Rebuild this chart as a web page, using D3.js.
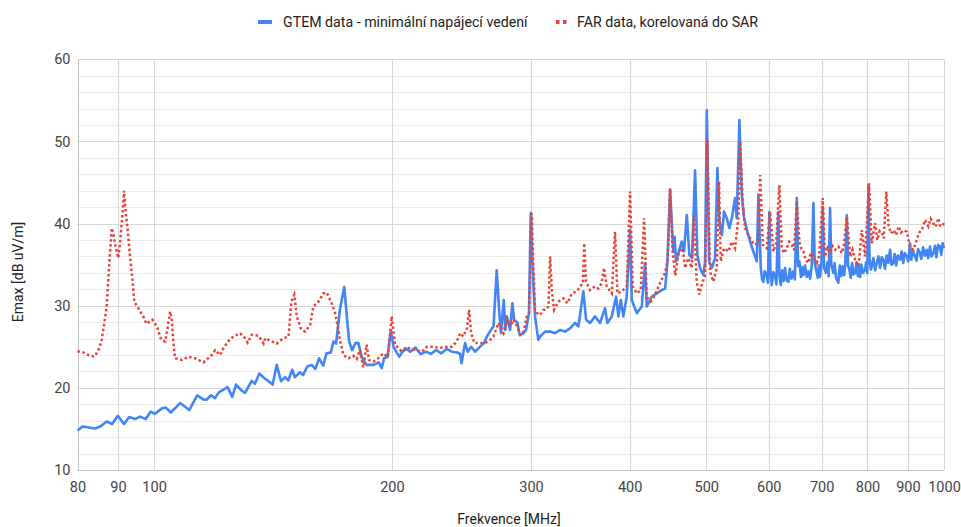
<!DOCTYPE html>
<html>
<head>
<meta charset="utf-8">
<script src="https://cdn.jsdelivr.net/npm/d3@7"></script>
<style>
  body { margin: 0; background: #fff; }
  svg { font-family: Roboto, Arial, sans-serif; }
</style>
</head>
<body>
<div id="chart"></div>
<script>
// series names + ticks
var seriesNames = ["GTEM data - minimální napájecí vedení", "FAR data, korelovaná do SAR"];
var xTickValues = [80, 90, 100, 200, 300, 400, 500, 600, 700, 800, 900, 1000];
var yTickValues = [10, 20, 30, 40, 50, 60];
var yMinorValues = [12, 14, 16, 18, 22, 24, 26, 28, 32, 34, 36, 38, 42, 44, 46, 48, 52, 54, 56, 58];

// [frequency MHz, Emax dB uV/m]
var gtem = [
  [80,14.8],[81.2,15.3],[84.2,15.05],[85.5,15.3],[87.1,15.9],[88.5,15.6],[90,16.6],[91.6,15.6],[93,16.45],[94.6,16.2],
  [96,16.5],[97.6,16.2],[99,17.1],[100.3,16.85],[102.3,17.5],[103.5,17.6],[105,17],[107.9,18.15],[110.8,17.3],[113.4,19.1],
  [115.4,18.6],[116.5,18.55],[118.1,19.1],[119.4,18.75],[120.8,19.45],[123.9,20.1],[125.6,18.9],[127,20.4],[129.1,19.65],[130.4,19.4],
  [132.9,20.85],[134.2,20.5],[135.9,21.75],[137.5,21.3],[141.3,20.4],[143,22.8],[144.8,20.8],[146.5,21.3],[147.9,20.9],[149.6,22.2],
  [150.8,21.3],[153,21.9],[154.4,21.55],[156.3,22.6],[158.3,22.8],[160,22.3],[161.8,23.6],[163.7,22.7],[165.3,24.2],[167.4,24.3],
  [168.7,25.65],[170,25.4],[171.9,29.5],[174.1,32.3],[175.4,28.7],[176.6,25.65],[178.1,24.6],[180,25.5],[181.4,25.45],[183.2,23.75],
  [185.8,22.8],[189.7,22.8],[192.5,23.1],[194.2,22.4],[195.5,23.6],[197.5,23.75],[199.4,27],[201,25],[204.3,23.8],[207.9,24.85],
  [211,24.4],[214.2,24.9],[217.5,24.1],[220.8,24.4],[224.2,24.15],[227.6,24.6],[231.1,24.2],[234.7,24.75],[238.3,24.4],[242,24.3],
  [244,24.15],[245,23],[247.6,25.45],[249.5,24.4],[252,25],[255,24.4],[258.5,25],[261.6,25.45],[264.5,26.45],[266.2,26.85],
  [269,27.5],[271.5,34.3],[273.4,29.5],[274.9,26.65],[277.1,30.7],[278.4,27.05],[279.6,28.7],[282.3,27.05],[284.2,30.3],[285.6,28.3],
  [288.5,27.9],[290.3,26.45],[293.4,26.65],[295.7,27.05],[298.3,29.1],[299.8,41.3],[302.1,32.75],[303.6,28.7],[306.5,25.85],[308.1,26.25],
  [312.6,26.85],[317.2,26.85],[321.8,26.65],[326.6,27.05],[331.4,26.85],[336.2,27.25],[341.2,27.9],[344.5,27.5],[349.5,31.75],[352.3,28.3],
  [356.4,27.9],[361.6,28.7],[366.9,27.9],[372.3,29.7],[374.8,27.9],[379.7,28.7],[384.5,31.1],[387.1,28.7],[389.8,30.7],[392.7,28.7],
  [396.6,31.1],[400.5,39.2],[402.5,30.7],[408.4,29.1],[414.4,29.9],[418.4,35.2],[420.4,29.9],[426.6,31.1],[432.9,31.5],[439.2,31.9],
  [443.5,32.1],[446.5,35.2],[450,44.1],[454.3,36.6],[456,38.4],[457.9,35.4],[461,36.4],[465.6,37.8],[468.7,36.6],[472.5,41.05],
  [476,36.2],[479.8,35.8],[484,46.5],[487.3,36.2],[491.1,34.6],[495.8,33.75],[498.4,35.4],[500.9,53.8],[504.2,35.4],[508.2,34.6],
  [513.1,35.8],[516.6,46.75],[519.6,40.25],[523.3,38.6],[526.8,41.45],[530.9,40.65],[535,39.45],[538.7,40.65],[543.9,43.1],[546.6,40.65],
  [550.8,52.6],[554.7,43.5],[558.4,40.65],[563.8,39],[568.3,37.8],[573.7,36.6],[579.5,35.4],[582.2,43.5],[586.2,34.6],[588.5,33.2],
  [590.7,32.9],[593,34.2],[596.5,33.7],[598.5,32.8],[601,41.4],[603,33.9],[605.3,32.5],[608,34.1],[611.1,33.7],[613.5,32.6],
  [617,41.4],[619,33.6],[621.4,32.5],[624,34.3],[626.5,33],[629.2,34.6],[632,33.1],[635.3,32.9],[638,34.5],[641,33.3],
  [644.6,34.2],[647.5,33.2],[651.1,43.1],[653.5,34.8],[656.1,35.4],[659,33.5],[661.5,34.7],[663.8,33.7],[667,34.9],[670.4,33.5],
  [673.5,34.2],[677,33.3],[680,34.8],[683.4,42.5],[686,35.2],[688.7,34.4],[692,33.4],[694.5,34.9],[696.7,33.5],[699.5,35.2],
  [702.2,42],[705,34.6],[709,34],[712,35.3],[714.5,33.6],[717.4,41.9],[720,35],[724.3,34],[727,35.2],[730,33.4],
  [734.9,32.8],[738,34.9],[741,33.6],[744.4,34.8],[747.5,33.7],[750,35.1],[753.3,41],[756,34.9],[759,34.4],[762,33.4],
  [765,35.2],[768,33.8],[771.8,34],[775,35.3],[778,33.6],[781,34.9],[783.1,33.5],[786,35],[790,34],[794.4,34.4],
  [797,35.3],[799.5,34],[802.1,44.7],[805,35.5],[808,34.4],[810.1,34.8],[814,35.8],[818,34.3],[822,35.2],[826,36],
  [830,34.6],[834,35.9],[838,35.6],[842,34.5],[846,36.1],[850,35.2],[854.5,36.8],[858,35],[862.7,35.2],[866,36.3],
  [870,34.9],[874,36.1],[879.8,35.6],[884,36.6],[888,35.2],[892,36.4],[897.1,36],[901,35.4],[905.8,37.6],[909,35.6],
  [913,36.7],[919.1,36],[923,35.5],[927,36.9],[932.6,36.4],[936,35.7],[941,37.1],[946,36.1],[950.9,36.8],[955,35.8],
  [960,37.2],[964,36],[969.5,36.4],[974,37.3],[978,35.9],[983,37.4],[988.4,37.2],[992,36.2],[996,37.6],[1000,37]
];

var far = [
  [80,24.45],[81.4,24.3],[82.6,24],[84,23.8],[84.9,24.45],[85.8,25.65],[86.5,27.9],[87.1,29.9],[87.5,33.15],[87.95,36.4],
  [88.4,39.45],[88.8,38.8],[89.4,37.2],[90.1,35.8],[90.55,37.6],[91,40.05],[91.4,42.3],[91.6,44],[92.1,41.25],[92.6,39.2],
  [93.25,35.95],[93.9,33.15],[94.4,30.5],[95.5,29.7],[96.9,28.7],[97.8,27.8],[99.5,28.3],[100.8,27.5],[102.1,25.85],[103.3,25.65],
  [104.1,27.5],[104.8,29.3],[105.3,28.3],[105.8,25.45],[106.3,23.6],[108.5,23.4],[110.5,23.8],[112.7,23.6],[115.5,23.1],[118.3,24],
  [119.5,24.6],[121.2,24],[122.4,24.85],[124.8,25.95],[126.6,26.35],[128.5,26.65],[130.4,26.05],[131.4,25.5],[132.9,26.45],[135.6,26.35],
  [137.6,25.4],[138.3,26.05],[140.9,25.65],[143,25.4],[145.8,26.05],[148,26.25],[149.2,30.5],[150.5,31.35],[151.6,28.7],[153.5,27.15],
  [155.3,26.85],[157.6,27.65],[159.1,29.9],[161.5,30.5],[163.8,31.5],[165.4,31.6],[167.5,30.5],[169.5,29.1],[170.9,27.35],[172,25.7],
  [173.7,24],[176.2,23.6],[178.7,23.9],[180.5,23.5],[182.2,24.6],[184,22.5],[185.8,25.25],[187.1,23.4],[189.5,23.2],[192.2,23.6],
  [195.1,24.2],[197.6,23.75],[199.9,28.7],[201.9,25.25],[203.9,24.85],[205.9,24.4],[209.9,24.85],[214.1,24.6],[218.3,24.4],[221.5,25],
  [225.7,25],[230.2,24.85],[234.8,25],[238.2,25],[241.7,25.65],[244,26.65],[246.4,26.25],[248.9,27.25],[250.5,29.5],[252,26.65],
  [254.4,25.45],[258.7,25.45],[262.5,25.45],[266.4,25.85],[268.9,26.25],[272.9,27.9],[276.9,26.65],[279.7,28.3],[282.4,27.5],[285.2,28.3],
  [288,27.5],[290.8,26.45],[293.6,26.85],[296.4,28.7],[298.3,29.1],[300.7,41.25],[302.1,34.8],[303.6,29.5],[306.5,28.9],[308.1,28.9],
  [311.1,29.5],[312.6,29.5],[315.7,29.9],[317.2,36],[318.8,31.9],[320.9,29.5],[325,30.5],[329.8,30.9],[333.7,30.3],[338,31.5],
  [343,31.75],[346.4,32.35],[349.1,32.75],[350.4,37.6],[352.3,32.95],[356.4,31.9],[361.6,32.35],[365.1,32.1],[368.7,32.75],[371.2,34.6],
  [374.1,32.35],[379.7,31.5],[383.3,39],[386,31.5],[391,31.75],[396.6,32.35],[400.5,43.9],[403.6,32.35],[408.4,31.5],[413.2,31.9],
  [417.2,40.65],[420.4,31.1],[425.4,30.5],[430.7,31.35],[437,32.75],[443.5,34],[446.9,35.6],[450,44.3],[453.4,36.6],[457,33.7],
  [461,36.2],[467,37],[470.1,34.6],[474.6,35.8],[479.3,34.6],[482.5,41],[486.3,32.95],[490,31.35],[493.5,32.55],[498.4,33.75],
  [501.7,50.2],[505.6,34.15],[510.5,32.95],[515.6,34.6],[519.1,45.1],[521.6,35.4],[526.8,37],[533.5,36.6],[538.7,37.8],[543.9,37],
  [549.2,40.65],[551.9,50],[556.3,42.3],[560,39.45],[565.5,38.6],[571.1,37.8],[576.7,37.4],[582.2,37.8],[585.2,45.9],[589.8,37.4],
  [596.5,37],[602.3,41.45],[608.1,36.6],[613,37.6],[618.8,44.7],[623.2,37],[627,36.4],[632.3,37],[637,37.8],[641.7,37.4],
  [646,36.8],[651.1,42.7],[656.1,37.8],[660,36.9],[663.8,36.6],[668,35.6],[673.5,35.2],[678,36.4],[683.4,36],[690.2,35.2],
  [695,36.1],[702.2,43.1],[706.9,36],[712,37],[717.4,36.4],[722,37.3],[728,36.8],[735.1,37.2],[742.4,36.4],[747,37.4],
  [753.3,40.85],[760.7,36],[766,36.8],[771.8,35.6],[779.3,34.8],[787.1,39.2],[794.4,36],[803.7,44.9],[810.1,37.6],[818,40.05],
  [823.6,38],[829,39.1],[834.4,38.85],[839,38.2],[845.1,43.9],[850.8,39.65],[857,38.8],[863.4,39.2],[870,38.6],[876.2,39.65],
  [882,38.9],[889.4,39.2],[897.1,39],[905.8,37.2],[914.6,36.8],[923.6,38],[930,38.9],[937.2,39.2],[946.3,40.45],[955.5,39.65],
  [962,40.6],[969.5,40.05],[976,39.6],[983.7,40.65],[988,39.8],[993.5,39.65],[1000,40.05]
];

var W = 961, H = 527;
var plot = { left: 77.5, right: 944, top: 59.3, bottom: 470 };
var blue = "#4285f4", red = "#ea4335";

var svg = d3.select("#chart").append("svg")
    .attr("width", W)
    .attr("height", H);

var x = d3.scaleLog().domain([80, 1000]).range([plot.left, plot.right]);
var y = d3.scaleLinear().domain([10, 60]).range([plot.bottom, plot.top]);

// minor horizontal grid
svg.append("g")
    .selectAll("line")
    .data(yMinorValues)
    .enter().append("line")
    .attr("x1", plot.left).attr("x2", plot.right)
    .attr("y1", d => Math.round(y(d)) + 0.5).attr("y2", d => Math.round(y(d)) + 0.5)
    .attr("stroke", "#ebebeb");

// major horizontal grid
svg.append("g")
    .selectAll("line")
    .data(yTickValues)
    .enter().append("line")
    .attr("x1", plot.left).attr("x2", plot.right)
    .attr("y1", d => Math.round(y(d)) + 0.5).attr("y2", d => Math.round(y(d)) + 0.5)
    .attr("stroke", d => d == 10 ? "#c4c4c4" : "#d6d6d6");

// vertical grid at labelled freqs
svg.append("g")
    .selectAll("line")
    .data(xTickValues)
    .enter().append("line")
    .attr("x1", d => Math.round(x(d)) + 0.5).attr("x2", d => Math.round(x(d)) + 0.5)
    .attr("y1", plot.top).attr("y2", plot.bottom)
    .attr("stroke", d => d == 80 ? "#c4c4c4" : "#d6d6d6");

// axes, labels only
var xAxis = d3.axisBottom(x).tickValues(xTickValues).tickFormat(d3.format("d")).tickSize(0).tickPadding(12);
var yAxis = d3.axisLeft(y).tickValues(yTickValues).tickFormat(d3.format("d")).tickSize(0).tickPadding(7);

svg.append("g")
    .attr("transform", `translate(0, ${plot.bottom})`)
    .call(xAxis)
    .call(g => g.select(".domain").remove())
    .selectAll("text")
    .attr("font-size", "14.5px")
    .attr("fill", "#444")
    .attr("font-family", "Roboto, Arial, sans-serif");

svg.append("g")
    .attr("transform", `translate(${plot.left}, 0)`)
    .call(yAxis)
    .call(g => g.select(".domain").remove())
    .selectAll("text")
    .attr("font-size", "14.5px")
    .attr("fill", "#444")
    .attr("font-family", "Roboto, Arial, sans-serif");

var line = d3.line()
    .x(d => x(d[0]))
    .y(d => y(d[1]));

svg.append("path")
    .datum(gtem)
    .attr("d", line)
    .attr("fill", "none")
    .attr("stroke", blue)
    .attr("stroke-width", 2.6)
    .attr("stroke-linejoin", "round");

svg.append("path")
    .datum(far)
    .attr("d", line)
    .attr("fill", "none")
    .attr("stroke", red)
    .attr("stroke-width", 2.5)
    .attr("stroke-dasharray", "2.5,2.5");

// axis titles
svg.append("text")
    .attr("x", 509).attr("y", 524)
    .attr("text-anchor", "middle")
    .attr("font-size", "14px")
    .attr("fill", "#222")
    .text("Frekvence [MHz]");

svg.append("text")
    .attr("transform", "translate(23, 272) rotate(-90)")
    .attr("text-anchor", "middle")
    .attr("font-size", "14px")
    .attr("fill", "#222")
    .text("Emax [dB uV/m]");

// legend
var legend = svg.append("g");
legend.append("line")
    .attr("x1", 258).attr("x2", 272).attr("y1", 22).attr("y2", 22)
    .attr("stroke", blue).attr("stroke-width", 4);
legend.append("text")
    .attr("x", 283).attr("y", 27)
    .attr("font-size", "14.2px").attr("fill", "#222")
    .text(seriesNames[0]);
legend.append("line")
    .attr("x1", 556).attr("x2", 567).attr("y1", 22).attr("y2", 22)
    .attr("stroke", red).attr("stroke-width", 4)
    .attr("stroke-dasharray", "3.5,3.5");
legend.append("text")
    .attr("x", 577).attr("y", 27)
    .attr("font-size", "14.2px").attr("fill", "#222")
    .text(seriesNames[1]);
</script>
</body>
</html>
